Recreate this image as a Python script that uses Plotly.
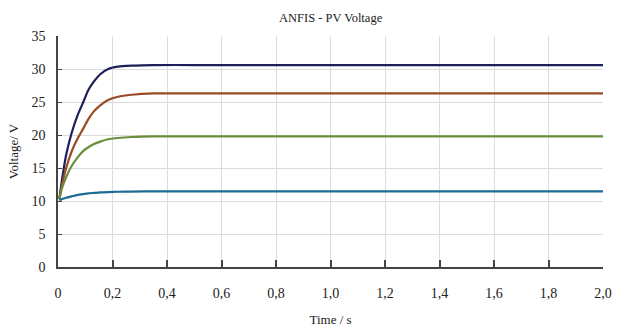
import plotly.graph_objects as go

time_s = [0.005, 0.015, 0.03, 0.05, 0.07, 0.093, 0.11, 0.13, 0.155, 0.184, 0.22, 0.27, 0.35, 0.50, 1.00, 1.50, 2.00]
v_navy = [10.3, 13.3, 17.0, 20.3, 22.8, 25.0, 26.7, 28.0, 29.2, 30.0, 30.35, 30.5, 30.6, 30.6, 30.6, 30.6, 30.6]
v_brown = [10.3, 12.5, 15.0, 17.5, 19.3, 21.0, 22.3, 23.5, 24.5, 25.3, 25.8, 26.1, 26.3, 26.3, 26.3, 26.3, 26.3]
v_green = [10.3, 12.0, 13.6, 15.3, 16.5, 17.6, 18.1, 18.6, 19.0, 19.35, 19.55, 19.7, 19.8, 19.8, 19.8, 19.8, 19.8]
v_teal = [10.1, 10.3, 10.5, 10.7, 10.9, 11.05, 11.15, 11.22, 11.3, 11.35, 11.4, 11.43, 11.47, 11.47, 11.47, 11.47, 11.47]

x_ticks = [0, 0.2, 0.4, 0.6, 0.8, 1.0, 1.2, 1.4, 1.6, 1.8, 2.0]
x_labels = ["0", "0,2", "0,4", "0,6", "0,8", "1,0", "1,2", "1,4", "1,6", "1,8", "2,0"]

series = [
    (v_navy, "#1c1f5a"),
    (v_brown, "#9a4a22"),
    (v_green, "#6a8f3c"),
    (v_teal, "#1d6a92"),
]

fig = go.Figure()
for vals, col in series:
    fig.add_trace(go.Scatter(x=time_s, y=vals, mode="lines",
                             line=dict(color=col, width=2.2, shape="spline", smoothing=0.6),
                             showlegend=False))

font_fam = "Liberation Serif"
fig.update_layout(
    width=618, height=327,
    margin=dict(l=58, r=15, t=36, b=60),
    paper_bgcolor="white", plot_bgcolor="white",
    font=dict(family=font_fam, size=14, color="#222"),
    title=dict(text="ANFIS - PV Voltage", x=0.535, xanchor="center", y=0.945, yanchor="middle",
               font=dict(family=font_fam, size=12.5, color="#222")),
)
fig.update_xaxes(range=[0, 2.0], tickvals=x_ticks, ticktext=x_labels,
                 showgrid=True, gridcolor="#dcdcdc", gridwidth=1,
                 showline=True, linecolor="#444", linewidth=1.5,
                 ticks="inside", ticklen=7, tickcolor="#444", tickwidth=1.5,
                 ticklabelstandoff=12, zeroline=False, automargin=False,
                 title=dict(text="Time / s", standoff=20, font=dict(family=font_fam, size=13)))
fig.update_yaxes(range=[0, 35], dtick=5,
                 showgrid=True, gridcolor="#dcdcdc", gridwidth=1,
                 showline=True, linecolor="#444", linewidth=1.5,
                 ticks="inside", ticklen=4, tickcolor="#444", tickwidth=1.2,
                 ticklabelstandoff=8, zeroline=False, automargin=False,
                 title=dict(text="Voltage/ V", standoff=10, font=dict(family=font_fam, size=13)))

fig.write_html("out.html")
